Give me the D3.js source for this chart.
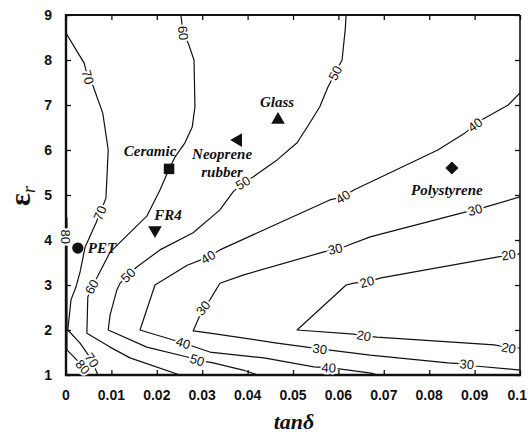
<!DOCTYPE html>
<html>
<head>
<meta charset="utf-8">
<script src="https://cdn.jsdelivr.net/npm/d3@7"></script>
<style>
  html, body { margin: 0; padding: 0; background: #fff; }
  svg { display: block; }
</style>
</head>
<body>
<svg id="chart" width="528" height="435"></svg>
<script>
// ---- axis ticks ----
const xTicks = [0, 0.01, 0.02, 0.03, 0.04, 0.05, 0.06, 0.07, 0.08, 0.09, 0.1];
const xTickLabels = ["0", "0.01", "0.02", "0.03", "0.04", "0.05", "0.06", "0.07", "0.08", "0.09", "0.1"];
const yTicks = [1, 2, 3, 4, 5, 6, 7, 8, 9];

// ---- iso-lines, each a list of [tanδ, εr] points ----
const contourLevels = [80, 70, 60, 50, 40, 30, 20];

const contour80 = [[0.0002, 4.5], [0.0002, 2.5], [0.0002, 1.56], [0.0024, 1.33], [0.0037, 1.18], [0.0048, 1.0]];
const contour70 = [[0, 8.6], [0.0040, 7.93], [0.0048, 7.62], [0.0059, 7.44], [0.0081, 6.82], [0.0093, 6.0],
  [0.0088, 4.93], [0.0075, 4.6], [0.0066, 4.38], [0.0042, 3.84], [0.0031, 3.29], [0.0022, 2.96],
  [0.0011, 2.67], [0.0004, 2.0], [0.0031, 1.71], [0.0057, 1.33], [0.0070, 1.0]];
const contour60 = [[0.0253, 9.0], [0.0258, 8.6], [0.0269, 8.38], [0.0282, 8.0], [0.0284, 6.96], [0.0278, 6.51],
  [0.0262, 6.16], [0.0240, 5.84], [0.0227, 5.58], [0.0207, 5.11], [0.0178, 4.53], [0.0097, 3.73],
  [0.0068, 3.16], [0.0057, 2.96], [0.0048, 2.73], [0.0046, 1.93], [0.0097, 1.62], [0.0141, 1.38], [0.0251, 1.0]];
const contour50 = [[0.0617, 9.0], [0.0615, 8.67], [0.0608, 8.0], [0.0593, 7.71], [0.0577, 7.4], [0.0559, 6.96],
  [0.0537, 6.6], [0.0509, 6.16], [0.0465, 5.78], [0.0412, 5.4], [0.0390, 5.27], [0.0368, 5.07],
  [0.0339, 4.67], [0.0280, 4.16], [0.0207, 3.78], [0.0156, 3.4], [0.0137, 3.22], [0.0119, 3.04],
  [0.0112, 2.89], [0.0097, 2.33], [0.0093, 2.0], [0.0178, 1.62], [0.0267, 1.4], [0.0289, 1.33],
  [0.0324, 1.27], [0.0390, 1.11], [0.0423, 1.0]];
const contour40 = [[0.1, 7.27], [0.0974, 7.0], [0.0916, 6.67], [0.0901, 6.56], [0.0879, 6.38], [0.0819, 6.0],
  [0.0634, 5.11], [0.0610, 4.96], [0.0581, 4.89], [0.0339, 3.78], [0.0313, 3.62], [0.0267, 3.44],
  [0.0196, 3.0], [0.0163, 2.0], [0.0258, 1.71], [0.0317, 1.51], [0.0436, 1.38], [0.0546, 1.18],
  [0.0579, 1.16], [0.0606, 1.13], [0.0672, 1.04], [0.0687, 1.0]];
const contour30 = [[0.1, 4.96], [0.0923, 4.73], [0.0901, 4.67], [0.0879, 4.62], [0.0670, 4.07], [0.0610, 3.84],
  [0.0593, 3.8], [0.0566, 3.73], [0.0390, 3.22], [0.0339, 3.04], [0.0317, 2.67], [0.0302, 2.49],
  [0.0280, 1.98], [0.0317, 1.93], [0.0465, 1.71], [0.0559, 1.58], [0.0670, 1.44], [0.0841, 1.27],
  [0.0883, 1.24], [0.0901, 1.2], [0.1, 1.11]];
const contour20 = [[0.1, 3.69], [0.098, 3.67], [0.0949, 3.62], [0.0694, 3.16], [0.0663, 3.07], [0.0634, 3.04],
  [0.0617, 3.0], [0.0509, 2.0], [0.0634, 1.91], [0.0656, 1.87], [0.0685, 1.84], [0.0943, 1.67],
  [0.098, 1.6], [0.1, 1.6]];

// where each iso-line carries its value label
const labels80 = [[0.0, 4.07], [0.0037, 1.18]];
const labels70 = [[0.0048, 7.62], [0.0075, 4.6], [0.0057, 1.33]];
const labels60 = [[0.0258, 8.6], [0.0057, 2.96]];
const labels50 = [[0.0593, 7.71], [0.0390, 5.27], [0.0137, 3.22], [0.0289, 1.33]];
const labels40 = [[0.0901, 6.56], [0.0610, 4.96], [0.0313, 3.62], [0.0258, 1.71], [0.0579, 1.16]];
const labels30 = [[0.0901, 4.67], [0.0593, 3.8], [0.0302, 2.49], [0.0559, 1.58], [0.0883, 1.24]];
const labels20 = [[0.0975, 3.67], [0.0663, 3.07], [0.0656, 1.87], [0.0975, 1.6]];

// ---- substrate materials ----
const materials = ["PET", "FR4", "Ceramic", "Neoprene rubber", "Glass", "Polystyrene"];
const matTan = [0.0026, 0.0196, 0.0227, 0.0379, 0.0467, 0.085];
const matEr = [3.82, 4.22, 5.58, 6.22, 6.67, 5.6];

// ================= drawing =================
const svg = d3.select("#chart");
const L = 66, R = 520, T = 15, B = 375;

const x = d3.scaleLinear().domain([0, 0.1]).range([L, R]);
const y = d3.scaleLinear().domain([1, 9]).range([B, T]);

svg.append("rect").attr("width", 528).attr("height", 435).attr("fill", "#fff");

svg.append("defs").append("clipPath").attr("id", "plotClip")
  .append("rect").attr("x", L).attr("y", T).attr("width", R - L).attr("height", B - T);

const contourLines = [contour80, contour70, contour60, contour50, contour40, contour30, contour20];
const contourLabels = [labels80, labels70, labels60, labels50, labels40, labels30, labels20];

const line = d3.line().x(d => x(d[0])).y(d => y(d[1]));

const gLines = svg.append("g").attr("clip-path", "url(#plotClip)");
contourLines.forEach(pts => {
  gLines.append("path")
    .attr("d", line(pts))
    .attr("fill", "none")
    .attr("stroke", "#111")
    .attr("stroke-width", 1.2)
    .attr("stroke-linejoin", "round");
});

// ---- frame and ticks (inward on all four sides) ----
const tickLen = 5;
const gAxes = svg.append("g");
gAxes.append("g").attr("transform", `translate(0,${B})`)
  .call(d3.axisBottom(x).tickValues(xTicks).tickSize(-tickLen).tickFormat(() => ""))
  .call(g => g.select(".domain").remove());
gAxes.append("g").attr("transform", `translate(0,${T})`)
  .call(d3.axisTop(x).tickValues(xTicks).tickSize(-tickLen).tickFormat(() => ""))
  .call(g => g.select(".domain").remove());
gAxes.append("g").attr("transform", `translate(${L},0)`)
  .call(d3.axisLeft(y).tickValues(yTicks).tickSize(-tickLen).tickFormat(() => ""))
  .call(g => g.select(".domain").remove());
gAxes.append("g").attr("transform", `translate(${R},0)`)
  .call(d3.axisRight(y).tickValues(yTicks).tickSize(-tickLen).tickFormat(() => ""))
  .call(g => g.select(".domain").remove());
gAxes.selectAll(".tick line").attr("stroke", "#111").attr("stroke-width", 1.3);

svg.append("line").attr("x1", L).attr("x2", R).attr("y1", T).attr("y2", T).attr("stroke", "#111").attr("stroke-width", 2);
svg.append("line").attr("x1", R).attr("x2", R).attr("y1", T).attr("y2", B).attr("stroke", "#111").attr("stroke-width", 1.6);
svg.append("line").attr("x1", L - 1).attr("x2", R + 1).attr("y1", B).attr("y2", B).attr("stroke", "#111").attr("stroke-width", 2.6);
svg.append("line").attr("x1", L).attr("x2", L).attr("y1", T - 1).attr("y2", B + 1).attr("stroke", "#111").attr("stroke-width", 2.4);

// ---- tick labels (the last one is kept inside the page edge) ----
const lastX = xTicks.length - 1;
svg.append("g").selectAll("text").data(xTicks).join("text")
  .attr("x", (d, i) => i === lastX ? 527 : x(d)).attr("y", 400)
  .attr("text-anchor", (d, i) => i === lastX ? "end" : "middle")
  .attr("font-family", "Liberation Sans, Arial, sans-serif")
  .attr("font-weight", "bold").attr("font-size", 14).attr("fill", "#111")
  .text((d, i) => xTickLabels[i]);

svg.append("g").selectAll("text").data(yTicks).join("text")
  .attr("x", 52).attr("y", d => y(d) + 5)
  .attr("text-anchor", "end")
  .attr("font-family", "Liberation Sans, Arial, sans-serif")
  .attr("font-weight", "bold").attr("font-size", 14).attr("fill", "#111")
  .text(d => d);

// ---- iso-line value labels, rotated along the local line direction ----
function localAngle(pts, p) {
  let best = Infinity, ang = 0;
  for (let i = 0; i < pts.length - 1; i++) {
    const ax = x(pts[i][0]), ay = y(pts[i][1]);
    const bx = x(pts[i + 1][0]), by = y(pts[i + 1][1]);
    const dx = bx - ax, dy = by - ay;
    const len2 = dx * dx + dy * dy || 1;
    let t = ((p[0] - ax) * dx + (p[1] - ay) * dy) / len2;
    t = Math.max(0, Math.min(1, t));
    const cx = ax + t * dx, cy = ay + t * dy;
    const dist = Math.hypot(p[0] - cx, p[1] - cy);
    if (dist < best) { best = dist; ang = Math.atan2(dy, dx) * 180 / Math.PI; }
  }
  if (ang > 90) ang -= 180;
  if (ang <= -90) ang += 180;
  return ang;
}

const gLab = svg.append("g");
contourLabels.forEach((labs, k) => {
  labs.forEach(d => {
    const px = x(d[0]), py = y(d[1]);
    const a = localAngle(contourLines[k], [px, py]);
    gLab.append("text")
      .attr("transform", `translate(${px},${py}) rotate(${a})`)
      .attr("text-anchor", "middle")
      .attr("dy", "0.35em")
      .attr("font-family", "Liberation Sans, Arial, sans-serif")
      .attr("font-size", 13)
      .attr("fill", "#111")
      .attr("stroke", "#fff")
      .attr("stroke-width", 4)
      .attr("paint-order", "stroke")
      .text(contourLevels[k]);
  });
});

// ---- material markers ----
const triangle = d3.symbol().type(d3.symbolTriangle).size(80)();
const markerShapes = {
  "PET": { path: d3.symbol().type(d3.symbolCircle).size(100)(), rot: 0 },
  "FR4": { path: triangle, rot: 180 },
  "Ceramic": { path: d3.symbol().type(d3.symbolSquare).size(110)(), rot: 0 },
  "Neoprene rubber": { path: triangle, rot: -90 },
  "Glass": { path: triangle, rot: 0 },
  "Polystyrene": { path: d3.symbol().type(d3.symbolSquare).size(85)(), rot: 45 }
};
// text placement relative to each marker (pixels)
const labelPlacement = {
  "PET": { dx: 10, dy: 0, anchor: "start", lines: ["PET"] },
  "FR4": { dx: 13, dy: -15, anchor: "middle", lines: ["FR4"] },
  "Ceramic": { dx: -19, dy: -18, anchor: "middle", lines: ["Ceramic"] },
  "Neoprene rubber": { dx: -16, dy: 14, anchor: "middle", lines: ["Neoprene", "rubber"] },
  "Glass": { dx: -1, dy: -18, anchor: "middle", lines: ["Glass"] },
  "Polystyrene": { dx: -5, dy: 22, anchor: "middle", lines: ["Polystyrene"] }
};

const gMat = svg.append("g");
materials.forEach((name, i) => {
  const px = x(matTan[i]), py = y(matEr[i]);
  const s = markerShapes[name];
  gMat.append("path")
    .attr("d", s.path)
    .attr("transform", `translate(${px},${py}) rotate(${s.rot})`)
    .attr("fill", "#111");
  const lp = labelPlacement[name];
  lp.lines.forEach((t, j) => {
    gMat.append("text")
      .attr("x", px + lp.dx).attr("y", py + lp.dy + j * 18)
      .attr("dy", "0.33em")
      .attr("text-anchor", lp.anchor)
      .attr("font-family", "Liberation Serif, Times New Roman, serif")
      .attr("font-style", "italic").attr("font-weight", "bold")
      .attr("font-size", 15).attr("fill", "#111")
      .text(t);
  });
});

// ---- axis titles ----
svg.append("text")
  .attr("x", 294).attr("y", 429)
  .attr("text-anchor", "middle")
  .attr("font-family", "Liberation Serif, Times New Roman, serif")
  .attr("font-style", "italic").attr("font-weight", "bold")
  .attr("font-size", 22).attr("fill", "#111")
  .text("tanδ");

const yTitle = svg.append("text")
  .attr("transform", "translate(30,196) rotate(-90)")
  .attr("text-anchor", "middle")
  .attr("font-family", "Liberation Serif, Times New Roman, serif")
  .attr("fill", "#111");
yTitle.append("tspan").attr("font-size", 30).attr("font-weight", "bold").text("ε");
yTitle.append("tspan").attr("font-size", 18).attr("font-style", "italic").attr("dy", 5).text("r");
</script>
</body>
</html>
